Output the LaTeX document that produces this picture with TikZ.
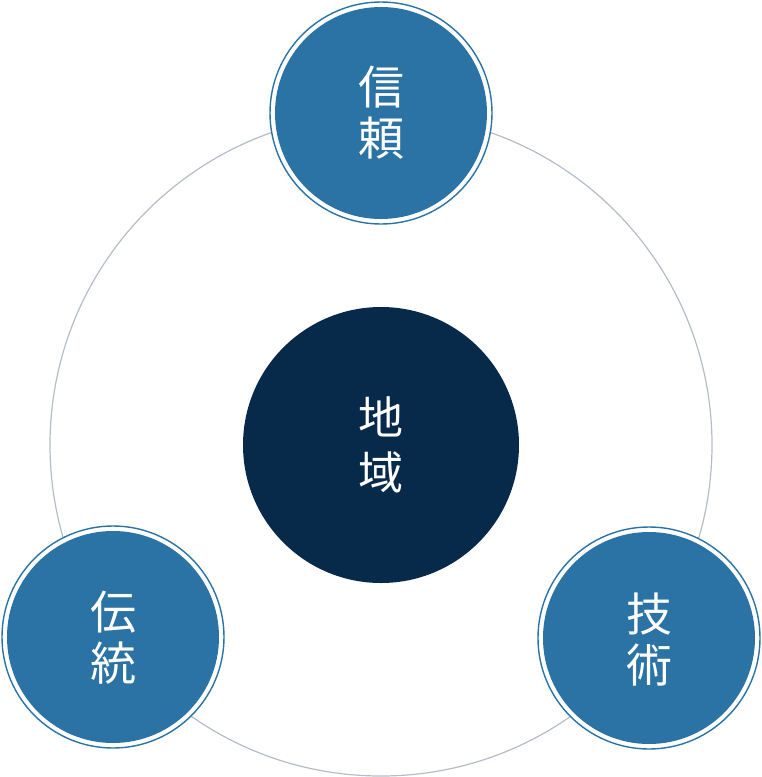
\documentclass[tikz,border=0pt]{standalone}
\usepackage{fontspec}
\newfontfamily\cjk{Noto Sans CJK JP}
\definecolor{ringblue}{HTML}{2A73A4}
\definecolor{navy}{HTML}{082A4A}
\definecolor{track}{HTML}{B5BCC8}
\begin{document}
\begin{tikzpicture}[x=1pt,y=-1pt,
  label/.style={text=white,font=\cjk\fontsize{46}{51}\selectfont,align=center,inner sep=0pt},
  outer/.style={circle,draw=ringblue,line width=1.4pt,fill=white,minimum size=222pt,inner sep=0pt},
  inner/.style={circle,fill=ringblue,minimum size=212pt,inner sep=0pt}]
\useasboundingbox (0,0) rectangle (762,777);
\node[circle,draw=track,line width=1.2pt,minimum size=662pt,inner sep=0pt] (track) at (381,445) {};
\node[circle,fill=navy,minimum size=276pt,inner sep=0pt] (center) at (381,445) {};
\node[label,font=\cjk\fontsize{45}{55}\selectfont] (centertext) at (381,445) {地\\域};
\node[outer] (topring) at (381,113) {};
\node[inner] (top) at (381,113) {};
\node[label] (toptext) at (381,113) {信\\頼};
\node[outer] (leftring) at (113,637) {};
\node[inner] (left) at (113,637) {};
\node[label] (lefttext) at (113,638) {伝\\統};
\node[outer] (rightring) at (649,638) {};
\node[inner] (right) at (649,638) {};
\node[label] (righttext) at (649,640) {技\\術};
\end{tikzpicture}
\end{document}
